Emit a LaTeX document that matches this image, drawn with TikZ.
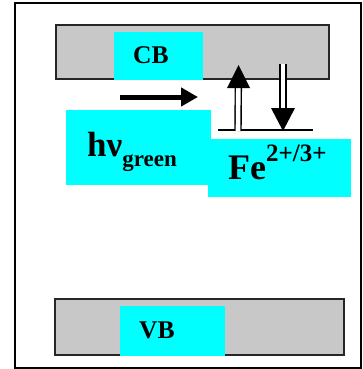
\documentclass[tikz,border=0pt]{standalone}
\usepackage{fontspec}
\setmainfont{Liberation Serif}
\usetikzlibrary{arrows.meta,calc}
\definecolor{bandgray}{RGB}{200,200,200}
\definecolor{labelcyan}{RGB}{0,255,255}
\begin{document}
\begin{tikzpicture}[x=1pt,y=-1pt,
  band/.style={draw=black!85, line width=1.3pt, fill=bandgray},
  patch/.style={fill=labelcyan, draw=none},
  lbl/.style={inner sep=0pt, anchor=base west, font=\bfseries},
  shaft/.style={draw=black, line width=1.4pt, double=white, double distance=4.6pt},
  head/.style={fill=black}]
  \useasboundingbox (0,0) rectangle (363,369);
  % outer frame
  \draw[line width=1.5pt] (15,3) rectangle (361,368);

  % conduction band
  \draw[band] (56,25) rectangle (329,79);
  \fill[patch] (114,32) rectangle (203,79.6);
  \node[lbl, font=\bfseries\fontsize{25.5}{25}\selectfont] (cb) at (133,63.5) {CB};

  % valence band
  \draw[band] (55,299) rectangle (344,355);
  \fill[patch] (120,306) rectangle (225,355.6);
  \node[lbl, font=\bfseries\fontsize{25.5}{25}\selectfont] (vb) at (139,338) {VB};

  % label patches
  \fill[patch] (208,139) rectangle (351,197);
  \fill[patch] (66,110) rectangle (211,185);
  \node[lbl] (hv) at (87,156) {\fontsize{35}{35}\selectfont hν\raisebox{-10pt}{\fontsize{23}{23}\selectfont green}};
  \node[lbl] (fe) at (228,179.5) {\fontsize{36}{36}\selectfont Fe\raisebox{18pt}{\fontsize{25}{25}\selectfont 2+/3+}};

  % incoming photon
  \coordinate (phA) at (120,97);
  \coordinate (phB) at (198,97);
  \draw[line width=5pt, -{Triangle[length=17pt,width=18pt]}] (phA) -- (phB);

  % iron level
  \coordinate (lvlL) at (218,130);
  \coordinate (lvlR) at (313,130);
  \draw[line width=1.5pt] (lvlL) -- (lvlR);

  % excitation into the conduction band
  \coordinate (upS) at (238,131);
  \coordinate (upT) at (238.5,65);
  \draw[shaft, shorten >=22pt] (upS) -- (upT);
  \fill[head] ($(upT)+(-11.5,23)$) -- ($(upT)+(11.5,23)$) -- (upT) -- cycle;

  % capture from the conduction band
  \coordinate (dnS) at (283,64);
  \coordinate (dnT) at (283,131);
  \draw[shaft, shorten >=22pt] (dnS) -- (dnT);
  \fill[head] ($(dnT)+(-12,-23)$) -- ($(dnT)+(12,-23)$) -- (dnT) -- cycle;
\end{tikzpicture}
\end{document}
